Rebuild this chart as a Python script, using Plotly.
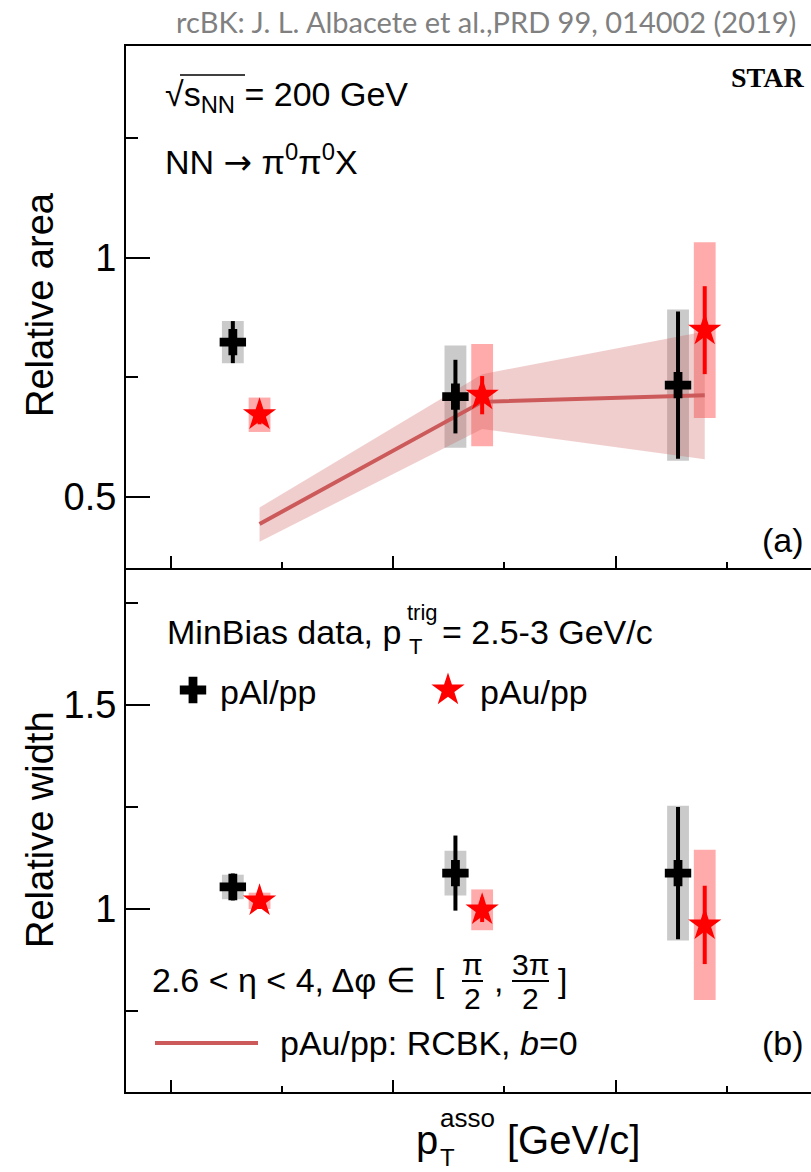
import plotly.graph_objects as go

# ---------------- data ----------------
x_pal = [1.14, 1.64, 2.14]
x_pau = [1.20, 1.70, 2.20]

area_pal = [0.824, 0.710, 0.734]
area_pal_stat = [0.044, 0.077, 0.154]
area_pal_sys = [0.044, 0.107, 0.158]
area_pau = [0.672, 0.713, 0.849]
area_pau_stat = [0.02, 0.040, 0.092]
area_pau_sys = [0.036, 0.107, 0.184]

model_x = [1.20, 1.70, 2.20]
model_area = [0.4435, 0.699, 0.713]
model_hi = [0.478, 0.757, 0.846]
model_lo = [0.4065, 0.642, 0.579]

width_pal = [1.054, 1.088, 1.088]
width_pal_stat = [0.033, 0.092, 0.162]
width_pal_sys = [0.030, 0.055, 0.165]
width_pau = [1.020, 0.998, 0.961]
width_pau_stat = [0.02, 0.03, 0.096]
width_pau_sys = [0.020, 0.050, 0.184]

x_major = [1.0, 1.5, 2.0]
x_minor = [1.25, 1.75, 2.25]
area_ticks = [0.5, 1.0]
area_ticktext = ["0.5", "1"]
area_minor = [0.75, 1.25]
width_ticks = [1.0, 1.5]
width_ticktext = ["1", "1.5"]
width_minor = [0.75, 1.25, 1.75]

# ---------------- style ----------------
W, H = 811, 1172
L, R, T, B = 126, 0, 46, 80
PW, PH = W - L - R, H - T - B
FONT = "Liberation Sans"
GRAY_BOX = "rgba(150,150,150,0.5)"
RED_BOX = "rgba(255,0,0,0.33)"
MODEL = "rgb(204,90,90)"
BAND = "rgba(205,92,92,0.30)"
BOX_W = 0.049


def px(x):
    return (x - L) / PW


def py(y):
    return (H - B - y) / PH


fig = go.Figure()


def add_panel(xa, ya, pal, pal_stat, pal_sys, pau, pau_stat, pau_sys, model=True):
    fig.add_trace(go.Bar(x=x_pal, y=[2 * s for s in pal_sys],
                         base=[v - s for v, s in zip(pal, pal_sys)],
                         width=BOX_W, marker=dict(color=GRAY_BOX, line=dict(width=0)),
                         xaxis=xa, yaxis=ya, hoverinfo="skip"))
    fig.add_trace(go.Bar(x=x_pau, y=[2 * s for s in pau_sys],
                         base=[v - s for v, s in zip(pau, pau_sys)],
                         width=BOX_W, marker=dict(color=RED_BOX, line=dict(width=0)),
                         xaxis=xa, yaxis=ya, hoverinfo="skip"))
    if model:
        fig.add_trace(go.Scatter(x=model_x + model_x[::-1], y=model_hi + model_lo[::-1],
                                 fill="toself", fillcolor=BAND, line=dict(width=0),
                                 mode="lines", xaxis=xa, yaxis=ya, hoverinfo="skip"))
        fig.add_trace(go.Scatter(x=model_x, y=model_area, mode="lines",
                                 line=dict(color=MODEL, width=4), xaxis=xa, yaxis=ya))
    fig.add_trace(go.Scatter(x=x_pal, y=pal, mode="markers",
                             marker=dict(symbol="cross", size=22, color="black"),
                             error_y=dict(type="data", array=pal_stat, thickness=4,
                                          width=0, color="black"),
                             xaxis=xa, yaxis=ya))
    fig.add_trace(go.Scatter(x=x_pau, y=pau, mode="markers",
                             marker=dict(symbol="star", size=25, color="red"),
                             error_y=dict(type="data", array=pau_stat, thickness=4,
                                          width=0, color="red"),
                             xaxis=xa, yaxis=ya))


add_panel("x2", "y2", area_pal, area_pal_stat, area_pal_sys,
          area_pau, area_pau_stat, area_pau_sys, model=True)
add_panel("x", "y", width_pal, width_pal_stat, width_pal_sys,
          width_pau, width_pau_stat, width_pau_sys, model=False)

# legend glyphs on an invisible full-area overlay axis
fig.add_trace(go.Scatter(x=[px(193)], y=[py(690)], mode="markers",
                         marker=dict(symbol="cross", size=22, color="black"),
                         xaxis="x3", yaxis="y3"))
fig.add_trace(go.Scatter(x=[px(448)], y=[py(690)], mode="markers",
                         marker=dict(symbol="star", size=25, color="red"),
                         xaxis="x3", yaxis="y3"))
fig.add_trace(go.Scatter(x=[px(155), px(258)], y=[py(1043), py(1043)], mode="lines",
                         line=dict(color=MODEL, width=4), xaxis="x3", yaxis="y3"))

XR = [0.9, 2.4387]
ydiv = 0.501
common_x = dict(range=XR, showline=True, linecolor="black", linewidth=2,
                ticks="inside", tickvals=x_major, ticklen=12, tickwidth=2, tickcolor="black",
                minor=dict(tickvals=x_minor, ticks="inside", ticklen=6, tickwidth=2,
                           tickcolor="black"),
                showticklabels=False, showgrid=False, zeroline=False, fixedrange=True)
common_y = dict(showline=True, linecolor="black", linewidth=2, ticks="inside",
                ticklen=24, tickwidth=2, tickcolor="black",
                showgrid=False, zeroline=False,
                tickfont=dict(family=FONT, size=38, color="black"))

fig.update_layout(
    width=W, height=H,
    margin=dict(l=L, r=R, t=T, b=B, pad=0),
    paper_bgcolor="white", plot_bgcolor="rgba(0,0,0,0)",
    showlegend=False, barmode="overlay",
    font=dict(family=FONT, color="black"),
    xaxis=dict(domain=[0, 1], anchor="y", **common_x),
    xaxis2=dict(domain=[0, 1], anchor="y2", mirror=True, **common_x),
    yaxis=dict(domain=[0, ydiv], anchor="x", range=[0.5515, 1.8358],
               tickvals=width_ticks, ticktext=width_ticktext,
               minor=dict(tickvals=width_minor, ticks="inside", ticklen=12, tickwidth=2,
                          tickcolor="black"),
               **common_y),
    yaxis2=dict(domain=[ydiv, 1], anchor="x2", range=[0.3515, 1.4435],
                tickvals=area_ticks, ticktext=area_ticktext,
                minor=dict(tickvals=area_minor, ticks="inside", ticklen=12, tickwidth=2,
                           tickcolor="black"),
                **common_y),
    xaxis3=dict(domain=[0, 1], anchor="y3", range=[0, 1], visible=False, fixedrange=True),
    yaxis3=dict(domain=[0, 1], anchor="x3", range=[0, 1], visible=False, fixedrange=True),
)

TXT = 34


def ann(text, x, y, xanchor="left", size=TXT, family=FONT, color="black", textangle=0):
    fig.add_annotation(text=text, x=px(x), y=py(y), xref="paper", yref="paper",
                       xanchor=xanchor, yanchor="middle", showarrow=False,
                       textangle=textangle, font=dict(family=family, size=size, color=color))


ann("rcBK: J. L. Albacete et al.,PRD 99, 014002 (2019)", 486, 22, xanchor="center",
    size=29, family="Lato", color="rgb(128,128,128)")
ann("√s<sub>NN</sub> = 200 GeV", 163, 96)
fig.add_shape(type="line", xref="paper", yref="paper", x0=px(180), x1=px(245),
              y0=py(75), y1=py(75), line=dict(color="black", width=1.5))
ann("NN <span style='font-family:DejaVu Sans'>→</span> π<sup>0</sup>π<sup>0</sup>X", 163, 160)
ann("<b>STAR</b>", 806, 78, xanchor="right", size=28, family="Liberation Serif")
ann("(a)", 806, 540, xanchor="right")
ann("Relative area", 40, 305, xanchor="center", size=38, textangle=-90)

ann("MinBias data, p", 165, 632)
ann("trig", 405, 612, size=22)
ann("T", 407, 646, size=22)
ann("= 2.5-3 GeV/c", 440, 632)
ann("pAl/pp", 218, 692)
ann("pAu/pp", 478, 692)

ann("2.6 < η < 4, Δφ ∈  [", 150, 980)
ann("π", 472, 964, xanchor="center", size=30)
ann("2", 472, 998, xanchor="center", size=30)
ann(",", 492, 980)
ann("3π", 530, 964, xanchor="center", size=30)
ann("2", 530, 998, xanchor="center", size=30)
ann("]", 556, 980)
for xa, xb in [(462, 483), (512, 549)]:
    fig.add_shape(type="line", xref="paper", yref="paper", x0=px(xa), x1=px(xb),
                  y0=py(981), y1=py(981), line=dict(color="black", width=2))

ann("pAu/pp: RCBK, <i>b</i>=0", 278, 1043)
ann("(b)", 806, 1043, xanchor="right")
ann("Relative width", 40, 830, xanchor="center", size=38, textangle=-90)

ann("p", 414, 1140, size=40)
ann("asso", 438, 1118, size=26)
ann("T", 438, 1157, size=24)
ann("[GeV/c]", 505, 1140, size=40)

fig.write_html("out.html")
